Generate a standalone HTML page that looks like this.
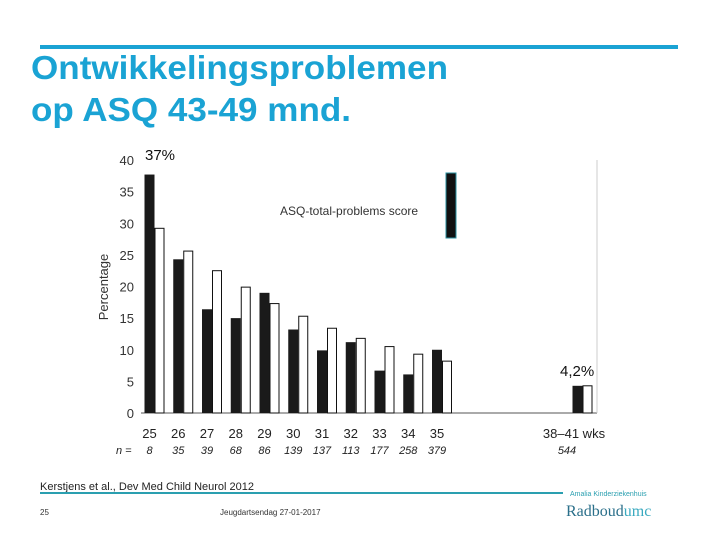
<!DOCTYPE html>
<html><head><meta charset="utf-8"><style>
body{margin:0;background:#fff;}
svg{display:block;font-family:"Liberation Sans",sans-serif;}
</style></head><body>
<svg id="s" width="720" height="540" viewBox="0 0 720 540">
<line x1="40" y1="47" x2="678" y2="47" stroke="#1aa3d4" stroke-width="4"/>
<text x="31" y="79" font-size="33" font-weight="bold" fill="#1aa3d4" textLength="417" lengthAdjust="spacingAndGlyphs">Ontwikkelingsproblemen</text>
<text x="31" y="121" font-size="33" font-weight="bold" fill="#1aa3d4" textLength="320" lengthAdjust="spacingAndGlyphs">op ASQ 43-49 mnd.</text>
<g id="chart"></g>
<text x="145" y="160" font-size="15" fill="#111">37%</text>
<text x="560" y="376" font-size="15" fill="#111">4,2%</text>
<text x="40" y="490" font-size="11" fill="#222">Kerstjens et al.,  Dev Med Child Neurol 2012</text>
<line x1="40" y1="493" x2="563" y2="493" stroke="#2a9fb0" stroke-width="2"/>
<text x="570" y="496" font-size="7" fill="#2a9fb0">Amalia Kinderziekenhuis</text>
<text x="40" y="515" font-size="8" fill="#333">25</text>
<text x="220" y="515" font-size="8" fill="#333">Jeugdartsendag   27-01-2017</text>
<text x="566" y="516" font-size="16" fill="#2a6f8a" font-family="Liberation Serif,serif">Radboud<tspan fill="#3aaac0">umc</tspan></text>
</svg>
<script>
const categories=["25","26","27","28","29","30","31","32","33","34","35","38–41 wks"];
const nLabels=["8","35","39","68","86","139","137","113","177","258","379","544"];
const blackValues=[37.7,24.3,16.4,15.0,19.0,13.2,9.9,11.2,6.7,6.1,10.0,4.3];
const whiteValues=[29.2,25.6,22.5,19.9,17.3,15.3,13.4,11.8,10.5,9.3,8.2,4.3];
const yTicks=[0,5,10,15,20,25,30,35,40];
const NS="http://www.w3.org/2000/svg";
const g=document.getElementById('chart');
const y=v=>413-v*(253/40);
const xc=i=>i<11?149.5+i*28.75:577.5;
function mk(t,a,txt){const e=document.createElementNS(NS,t);for(const k in a)e.setAttribute(k,a[k]);if(txt!=null)e.textContent=txt;g.appendChild(e);return e;}
let e;
e=mk('line',{x1:141,y1:413,x2:597,y2:413,stroke:'#555','stroke-width':1});


e=mk('line',{x1:597,y1:160,x2:597,y2:413,stroke:'#ccc','stroke-width':1});


yTicks.forEach(t=>{
 e=mk('text',{x:134,y:y(t)+5,'font-size':13,'text-anchor':'end',fill:'#333'},String(t));
 
 
});
e=mk('text',{x:108,y:287,'font-size':13,fill:'#333','text-anchor':'middle',transform:'rotate(-90 108 287)'},'Percentage');


categories.forEach((c,i)=>{
 const cx=xc(i);
 e=mk('rect',{x:cx-5,y:y(blackValues[i]),width:10,height:413-y(blackValues[i]),fill:'#1a1a1a'});
 
 
 e=mk('rect',{x:cx+5.5,y:y(whiteValues[i]),width:9,height:413-y(whiteValues[i]),fill:'#fff',stroke:'#111','stroke-width':1});
 
 
 e=mk('text',{x:i<11?cx:574,y:438,'font-size':13,fill:'#222','text-anchor':'middle'},c);
 
 
 e=mk('text',{x:i<11?cx:567,y:454,'font-size':11,'font-style':'italic',fill:'#222','text-anchor':'middle'},nLabels[i]);
 
 
});
e=mk('text',{x:116,y:454,'font-size':11,'font-style':'italic',fill:'#222'},'n  =');


e=mk('text',{x:280,y:215,'font-size':12,fill:'#333'},'ASQ-total-problems score');


e=mk('rect',{x:446,y:173,width:10,height:65,fill:'#111',stroke:'#2a8f9f','stroke-width':1});


</script>
</body></html>
